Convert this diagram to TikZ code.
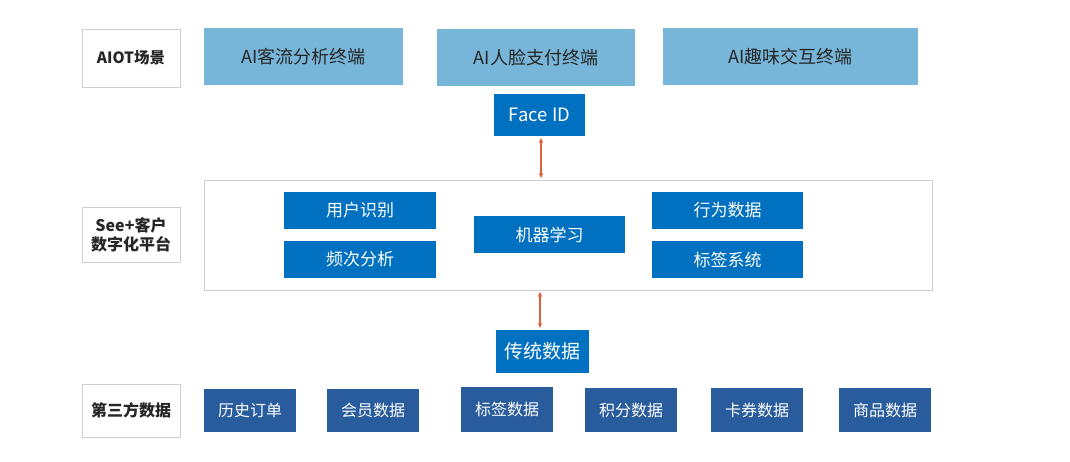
\documentclass[tikz,border=0pt]{standalone}
\usepackage{fontspec}
\setmainfont{Noto Sans CJK SC}
\usetikzlibrary{arrows.meta}
\definecolor{lightb}{HTML}{77B6D9}
\definecolor{midb}{HTML}{0070C0}
\definecolor{darkb}{HTML}{285C9C}
\definecolor{arrc}{HTML}{E0603C}
\definecolor{grayb}{HTML}{CFCFCF}
\begin{document}
\begin{tikzpicture}[x=1pt,y=-1pt,
  lbl/.style={draw=grayb,line width=0.8pt,fill=white,inner sep=0pt,align=center,font=\fontsize{16}{19}\selectfont\bfseries,text=black!85},
  term/.style={fill=lightb,inner sep=0pt,font=\fontsize{18}{20}\selectfont,text=black!85},
  mid/.style={fill=midb,inner sep=0pt,font=\fontsize{17}{19}\selectfont,text=white},
  dark/.style={fill=darkb,inner sep=0pt,font=\fontsize{16}{18}\selectfont,text=white},
  arr/.style={draw=arrc,line width=1.1pt,{Stealth[length=5pt,width=4.5pt]}-{Stealth[length=5pt,width=4.5pt]},shorten >=2pt,shorten <=2pt}]
\useasboundingbox (0,0) rectangle (1070,462);
% row 1
\node[lbl,minimum width=98pt,minimum height=58pt,font=\fontsize{15.5}{18}\selectfont\bfseries] (aiot) at (131,58) {AIOT场景};
\node[term,minimum width=199pt,minimum height=57pt] (t1) at (303.5,56.5) {AI客流分析终端};
\node[term,minimum width=198pt,minimum height=57pt] (t2) at (536,57.5) {AI人脸支付终端};
\node[term,minimum width=255pt,minimum height=57pt] (t3) at (790.5,56.5) {AI趣味交互终端};
\node[mid,minimum width=91pt,minimum height=42pt,font=\fontsize{18.4}{20}\selectfont] (faceid) at (539.5,115) {Face ID};
% platform
\node[draw=grayb,line width=0.8pt,minimum width=728pt,minimum height=110pt,inner sep=0pt] (platform) at (568,235) {};
\node[lbl,minimum width=98pt,minimum height=55pt] (see) at (131,234.5) {See+客户\\数字化平台};
\node[mid,minimum width=152pt,minimum height=37pt] (yhsb) at (360,210.5) {用户识别};
\node[mid,minimum width=152pt,minimum height=37pt] (pcfx) at (360,259.5) {频次分析};
\node[mid,minimum width=151pt,minimum height=37pt] (jqxx) at (549.5,234.5) {机器学习};
\node[mid,minimum width=151pt,minimum height=37pt] (xwsj) at (727.5,210.5) {行为数据};
\node[mid,minimum width=151pt,minimum height=37pt] (bqxt) at (727.5,259.5) {标签系统};
\node[mid,minimum width=93pt,minimum height=43pt,font=\fontsize{19}{21}\selectfont] (ctsj) at (542.5,351.5) {传统数据};
% bottom
\node[lbl,minimum width=98pt,minimum height=53pt] (dsf) at (131,410.5) {第三方数据};
\node[dark,minimum width=92pt,minimum height=43pt] (b1) at (250,410.5) {历史订单};
\node[dark,minimum width=92pt,minimum height=43pt] (b2) at (373,410.5) {会员数据};
\node[dark,minimum width=92pt,minimum height=45pt] (b3) at (507,409.5) {标签数据};
\node[dark,minimum width=92pt,minimum height=44pt] (b4) at (631,410) {积分数据};
\node[dark,minimum width=92pt,minimum height=44pt] (b5) at (757,410) {卡券数据};
\node[dark,minimum width=92pt,minimum height=44pt] (b6) at (885,410) {商品数据};
% arrows
\coordinate (a1) at (541,136);
\coordinate (a2) at (541,180);
\draw[arr] (a1) -- (a2);
\coordinate (a3) at (540,290);
\coordinate (a4) at (540,330);
\draw[arr] (a3) -- (a4);
\end{tikzpicture}
\end{document}
